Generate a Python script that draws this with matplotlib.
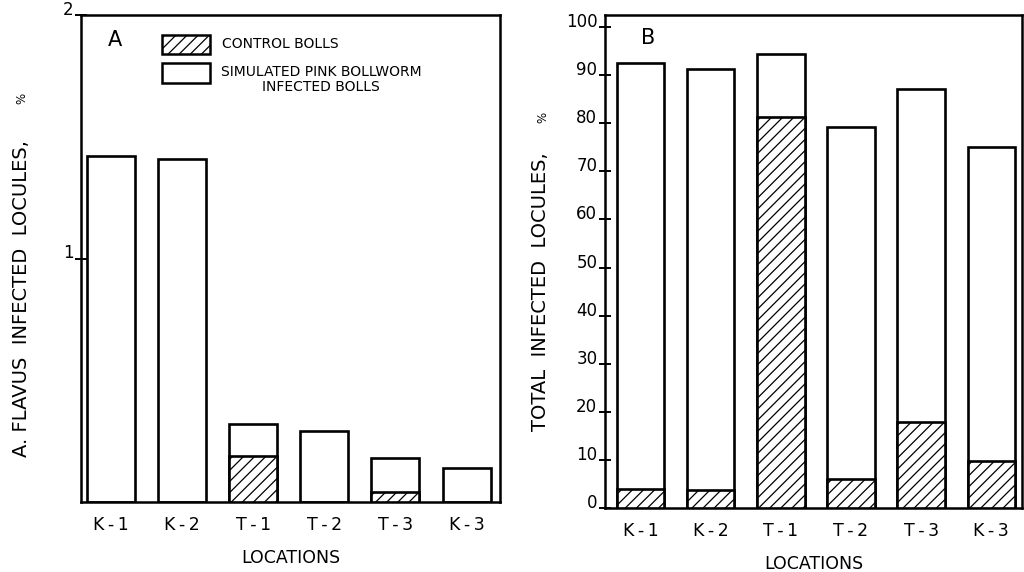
import matplotlib
matplotlib.use("Agg")
import matplotlib.pyplot as plt
from matplotlib.patches import Rectangle
import numpy as np

plt.rcParams.update({
    "font.family": "DejaVu Sans",
    "hatch.linewidth": 0.9,
})

locations = ["K-1", "K-2", "T-1", "T-2", "T-3", "K-3"]

# panel A: A. flavus infected locules, %
flavus_infected = [1.42, 1.41, 0.32, 0.29, 0.18, 0.14]
flavus_control = [0.0, 0.0, 0.19, 0.0, 0.04, 0.0]

# panel B: total infected locules, %
total_infected = [92.5, 91.3, 94.3, 79.2, 87.1, 75.1]
total_control = [3.9, 3.7, 81.3, 6.0, 17.8, 9.8]

W, H = 1024, 572
fig = plt.figure(figsize=(W / 100, H / 100), dpi=100)


def px_axes(x0, x1, y0, y1):
    return fig.add_axes([x0 / W, 1 - y1 / H, (x1 - x0) / W, (y1 - y0) / H])


def draw_bars(ax, infected, control):
    x = np.arange(len(locations))
    bw = 0.675
    ax.bar(x, infected, bw, facecolor="white", edgecolor="black", linewidth=1.9, zorder=2)
    ctrl = np.array(control, dtype=float)
    ctrl[ctrl <= 0] = np.nan
    ax.bar(x, ctrl, bw, facecolor="white", edgecolor="black", hatch="///",
           linewidth=1.9, zorder=3)
    # spaced-out hyphen like the original lettering
    ax.set_xticks(x, [l.replace("-", "\u2009-\u2009") for l in locations])
    ax.tick_params(axis="x", length=0, pad=10, labelsize=12.5)
    ax.tick_params(axis="y", direction="inout", length=9, width=1.4, pad=1, labelsize=12)
    for t in ax.get_yticklabels():
        t.set_verticalalignment("baseline")
    for s in ax.spines.values():
        s.set_linewidth(1.8)
    ax.set_xlabel("LOCATIONS", fontsize=12.5, labelpad=11)


# ---- panel A
axA = px_axes(81, 500, 15, 502)
draw_bars(axA, flavus_infected, flavus_control)
axA.set_xlim(-0.42, 5.47)
axA.set_ylim(0, 1.99)
axA.set_yticks([1, 2])
axA.text(0.081, 0.949, "A", transform=axA.transAxes, fontsize=15,
         ha="center", va="center")

# legend drawn by hand
axA.add_patch(Rectangle((0.193, 0.92), 0.115, 0.039, transform=axA.transAxes,
                        facecolor="white", edgecolor="black", hatch="///",
                        linewidth=1.8, clip_on=False))
axA.add_patch(Rectangle((0.193, 0.86), 0.115, 0.041, transform=axA.transAxes,
                        facecolor="white", edgecolor="black",
                        linewidth=1.8, clip_on=False))
axA.text(0.337, 0.940, "CONTROL BOLLS", transform=axA.transAxes, fontsize=10,
         ha="left", va="center")
axA.text(0.573, 0.867, "SIMULATED PINK BOLLWORM\nINFECTED BOLLS",
         transform=axA.transAxes, fontsize=10, ha="center", va="center",
         multialignment="center", linespacing=1.05)

fig.text(22 / W, 1 - 299 / H, "A. FLAVUS  INFECTED  LOCULES,", rotation=90,
         fontsize=14, ha="center", va="center")
fig.text(22 / W, 1 - 98 / H, "%", rotation=90, fontsize=8.5, ha="center", va="center")

# ---- panel B
axB = px_axes(605, 1022, 15, 508)
draw_bars(axB, total_infected, total_control)
axB.set_xlim(-0.51, 5.44)
axB.set_ylim(0, 102.5)
axB.set_yticks(np.arange(0, 101, 10))
axB.text(0.103, 0.953, "B", transform=axB.transAxes, fontsize=15,
         ha="center", va="center")

fig.text(540 / W, 1 - 292 / H, "TOTAL  INFECTED  LOCULES,", rotation=90,
         fontsize=14, ha="center", va="center")
fig.text(543 / W, 1 - 117 / H, "%", rotation=90, fontsize=8.5, ha="center", va="center")

fig.savefig("out.png", dpi=100)
